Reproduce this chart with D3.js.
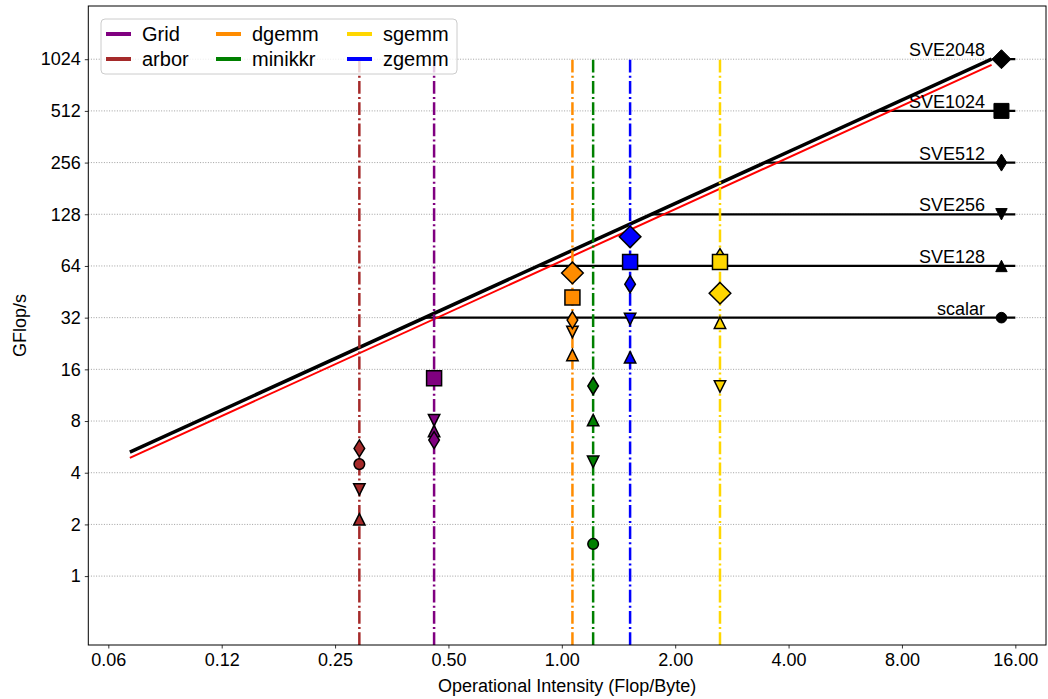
<!DOCTYPE html>
<html>
<head>
<meta charset="utf-8">
<script src="https://cdn.jsdelivr.net/npm/d3@7"></script>
<style>
  html, body { margin: 0; padding: 0; background: #fff; }
  svg { display: block; font-family: "Liberation Sans", Arial, Helvetica, sans-serif; }
</style>
</head>
<body>
<svg id="chart" width="1048" height="699"></svg>
<script>
// ---------------- data ----------------
const apps = ["Grid", "arbor", "dgemm", "minikkr", "sgemm", "zgemm"];
const appColors = ["purple", "brown", "darkorange", "green", "gold", "blue"];
const appIntensity = [0.458, 0.290, 1.067, 1.211, 2.63, 1.518];

const roofNames = ["scalar", "SVE128", "SVE256", "SVE512", "SVE1024", "SVE2048"];
const roofPeaks = [32, 64, 128, 256, 512, 1024];
const roofShapes = ["circle", "triUp", "triDown", "thinDiamond", "square", "diamond"];

// measured GFlop/s per roof (rows) for each app (columns: Grid, arbor, dgemm, minikkr, sgemm, zgemm)
const perfScalar  = [null, 4.49, null, 1.54, null, null];
const perfSVE128  = [7.0, 2.14, 19.4, 8.1, 29.9, 18.8];
const perfSVE256  = [8.1, 3.2, 26.4, 4.63, 12.7, 31.4];
const perfSVE512  = [6.2, 5.54, 31.0, 12.8, 72.0, 50.1];
const perfSVE1024 = [14.2, null, 42.0, null, 67.6, 67.6];
const perfSVE2048 = [null, null, 58.3, null, 44.4, 94.6];
const perfByRoof = [perfScalar, perfSVE128, perfSVE256, perfSVE512, perfSVE1024, perfSVE2048];

// memory bandwidth roofs (GB/s) and the intensity range they are drawn over
const bwTheoretical = 74;
const bwMeasured = 68.5;
const bwRange = [0.0713, 1024 / 74];
const roofEnd = 16;
const roofMarkerX = 14.7;
const roofLabelX = 13.3;

const xTicks = [0.0625, 0.125, 0.25, 0.5, 1, 2, 4, 8, 16];
const xTickLabels = ["0.06", "0.12", "0.25", "0.50", "1.00", "2.00", "4.00", "8.00", "16.00"];
const yTicks = [1, 2, 4, 8, 16, 32, 64, 128, 256, 512, 1024];
const yTickLabels = ["1", "2", "4", "8", "16", "32", "64", "128", "256", "512", "1024"];
const xDomain = [0.0553, 19.3];
const yDomain = [0.397, 2090];

// ---------------- layout ----------------
const svg = d3.select("#chart");
const L = 88.3, R = 1046, T = 6, B = 645;
const x = d3.scaleLog().base(2).domain(xDomain).range([L, R]);
const y = d3.scaleLog().base(2).domain(yDomain).range([B, T]);

svg.append("defs").append("clipPath").attr("id", "clip")
  .append("rect").attr("x", L).attr("y", T).attr("width", R - L).attr("height", B - T);

// gridlines
const grid = svg.append("g");
grid.selectAll("line").data(yTicks).join("line")
  .attr("x1", L).attr("x2", R)
  .attr("y1", d => y(d)).attr("y2", d => y(d))
  .attr("stroke", "#a0a0a0").attr("stroke-width", 1)
  .attr("stroke-dasharray", "1,1.6");

const plot = svg.append("g").attr("clip-path", "url(#clip)");

// horizontal compute roofs
plot.selectAll(".roof").data(roofPeaks).join("line")
  .attr("class", "roof")
  .attr("x1", d => x(d / bwTheoretical)).attr("x2", x(roofEnd))
  .attr("y1", d => y(d)).attr("y2", d => y(d))
  .attr("stroke", "black").attr("stroke-width", 2.2);

// bandwidth roofs
const line = d3.line().x(d => x(d[0])).y(d => y(d[1]));
plot.append("path")
  .attr("d", line(bwRange.map(v => [v, v * bwMeasured])))
  .attr("stroke", "red").attr("stroke-width", 2).attr("fill", "none");
plot.append("path")
  .attr("d", line(bwRange.map(v => [v, v * bwTheoretical])))
  .attr("stroke", "black").attr("stroke-width", 3.5).attr("fill", "none");

// vertical app lines
plot.selectAll(".vline").data(apps).join("line")
  .attr("class", "vline")
  .attr("x1", (d, i) => x(appIntensity[i])).attr("x2", (d, i) => x(appIntensity[i]))
  .attr("y1", y(yDomain[0])).attr("y2", y(1024))
  .attr("stroke", (d, i) => appColors[i]).attr("stroke-width", 2.5)
  .attr("stroke-dasharray", "12.8,3.2,2,3.2");

// marker paths
function markerPath(shape, big) {
  const p = d3.path();
  if (shape === "circle") { const r = 5.3; p.moveTo(r, 0); p.arc(0, 0, r, 0, 2 * Math.PI); }
  else if (shape === "triUp") { const s = 5.7; p.moveTo(0, -s); p.lineTo(s, s); p.lineTo(-s, s); p.closePath(); }
  else if (shape === "triDown") { const s = 5.7; p.moveTo(0, s); p.lineTo(s, -s); p.lineTo(-s, -s); p.closePath(); }
  else if (shape === "thinDiamond") { const h = 8.5, w = 5.3; p.moveTo(0, -h); p.lineTo(w, 0); p.lineTo(0, h); p.lineTo(-w, 0); p.closePath(); }
  else if (shape === "square") { const s = 7.5; p.rect(-s, -s, 2 * s, 2 * s); }
  else if (shape === "diamond") { const s = big ? 10.8 : 9.5; p.moveTo(0, -s); p.lineTo(s, 0); p.lineTo(0, s); p.lineTo(-s, 0); p.closePath(); }
  return p.toString();
}

// roof markers and labels
const roofG = svg.append("g");
roofNames.forEach((name, k) => {
  roofG.append("path")
    .attr("d", markerPath(roofShapes[k], false))
    .attr("transform", `translate(${x(roofMarkerX)},${y(roofPeaks[k])})`)
    .attr("fill", "black").attr("stroke", "black").attr("stroke-width", 1);
  roofG.append("text")
    .attr("x", x(roofLabelX)).attr("y", y(roofPeaks[k]) - 3)
    .attr("text-anchor", "end").attr("font-size", 18).attr("fill", "black")
    .text(name);
});

// app markers
const mk = svg.append("g");
apps.forEach((app, i) => {
  perfByRoof.forEach((arr, k) => {
    const v = arr[i];
    if (v == null) return;
    mk.append("path")
      .attr("d", markerPath(roofShapes[k], true))
      .attr("transform", `translate(${x(appIntensity[i])},${y(v)})`)
      .attr("fill", appColors[i]).attr("stroke", "black").attr("stroke-width", 1.5)
      .attr("stroke-linejoin", "miter");
  });
});

// axes
const xAxis = svg.append("g").attr("transform", `translate(0,${B})`)
  .call(d3.axisBottom(x).tickValues(xTicks).tickFormat((d, i) => xTickLabels[i]).tickSize(3.5).tickPadding(5));
const yAxis = svg.append("g").attr("transform", `translate(${L},0)`)
  .call(d3.axisLeft(y).tickValues(yTicks).tickFormat((d, i) => yTickLabels[i]).tickSize(3.5).tickPadding(4));
[xAxis, yAxis].forEach(a => {
  a.select(".domain").remove();
  a.selectAll("text").attr("font-size", 18).attr("fill", "black").attr("font-family", "Liberation Sans, Arial, sans-serif");
  a.selectAll("line").attr("stroke", "black").attr("stroke-width", 0.8);
});

// frame
svg.append("rect").attr("x", L).attr("y", T).attr("width", R - L).attr("height", B - T)
  .attr("fill", "none").attr("stroke", "black").attr("stroke-width", 1);

// axis titles
svg.append("text").attr("x", (L + R) / 2).attr("y", 692)
  .attr("text-anchor", "middle").attr("font-size", 18).text("Operational Intensity (Flop/Byte)");
svg.append("text").attr("transform", `translate(26,${(T + B) / 2}) rotate(-90)`)
  .attr("text-anchor", "middle").attr("font-size", 18).text("GFlop/s");

// legend
const lg = svg.append("g");
lg.append("rect").attr("x", 101).attr("y", 19).attr("width", 356).attr("height", 55)
  .attr("rx", 4).attr("fill", "white").attr("fill-opacity", 0.8)
  .attr("stroke", "#cccccc").attr("stroke-width", 1);
const colX = [106, 216, 347];
const rowY = [34, 59];
apps.forEach((app, i) => {
  const c = Math.floor(i / 2), r = i % 2;
  lg.append("line").attr("x1", colX[c]).attr("x2", colX[c] + 25)
    .attr("y1", rowY[r]).attr("y2", rowY[r])
    .attr("stroke", appColors[i]).attr("stroke-width", 4);
  lg.append("text").attr("x", colX[c] + 36).attr("y", rowY[r] + 7)
    .attr("font-size", 20).text(app);
});
</script>
</body>
</html>
